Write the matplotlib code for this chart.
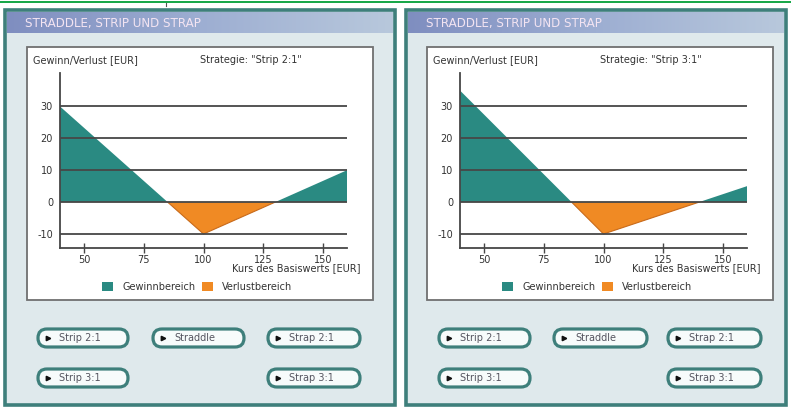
import numpy as np
import matplotlib
matplotlib.use("Agg")
import matplotlib.pyplot as plt
from matplotlib.patches import Rectangle, FancyBboxPatch, Patch
from matplotlib.colors import LinearSegmentedColormap

# Payoff profiles (profit/loss in EUR) at the given underlying prices
underlying = [40, 100, 160]
strip_21 = [30, -10, 10]
strip_31 = [35, -10, 5]

y_ticks = [-10, 0, 10, 20, 30]
x_ticks = [50, 75, 100, 125, 150]

panel_title = "STRADDLE, STRIP UND STRAP"
strategies = ["Strategie: \"Strip 2:1\"", "Strategie: \"Strip 3:1\""]
button_rows = [["Strip 2:1", "Straddle", "Strap 2:1"], ["Strip 3:1", None, "Strap 3:1"]]
legend_labels = ["Gewinnbereich", "Verlustbereich"]

TEAL = "#2a8a82"
ORANGE = "#f08a24"
BORDER = "#3e7f7b"
GRID = "#474747"
TXT = "#333333"
FS = 7

W, H = 791, 407
fig = plt.figure(figsize=(W / 100, H / 100), dpi=100)
fig.patch.set_facecolor("white")

# Background canvas in pixel units
bg = fig.add_axes([0, 0, 1, 1], zorder=0)
bg.set_xlim(0, W)
bg.set_ylim(H, 0)
bg.axis("off")

# green rule across the top
bg.add_patch(Rectangle((0, 0.5), W, 2.5, color="#19a84a", lw=0))
bg.plot([166, 166], [3, 6], color="#555555", lw=0.8)

panels = [
    dict(x0=5, x1=395, box=(27, 373), ax_x=(60, 347), btn=[(38, 128), (153, 244), (268, 360)]),
    dict(x0=406, x1=786, box=(427, 773), ax_x=(460, 747), btn=[(439, 530), (554, 647), (668, 761)]),
]

grad = np.linspace(0, 1, 256).reshape(1, -1)
title_cmap = LinearSegmentedColormap.from_list("tb", ["#7f8ec0", "#9daed2", "#b8c8dc"])

for p, payoff, strat in zip(panels, [strip_21, strip_31], strategies):
    x0, x1 = p["x0"], p["x1"]
    # panel body
    bg.add_patch(Rectangle((x0, 10), x1 - x0, 395, facecolor="#dfe9ec",
                           edgecolor=BORDER, lw=2.6, zorder=1))
    # title bar
    bg.imshow(grad, cmap=title_cmap, aspect="auto",
              extent=(x0 + 2, x1 - 2, 33, 12), zorder=2)
    bg.text(x0 + 20, 23, panel_title, color="#f3e4f2", fontsize=8.6,
            ha="left", va="center", zorder=3)
    # white chart box
    bx0, bx1 = p["box"]
    bg.add_patch(Rectangle((bx0, 47), bx1 - bx0, 253, facecolor="white",
                           edgecolor="#707070", lw=1.3, zorder=2))
    # buttons
    for r, row in enumerate(button_rows):
        yc = 338 if r == 0 else 378
        for (bl, br), label in zip(p["btn"], row):
            if label is None:
                continue
            bg.add_patch(FancyBboxPatch((bl, yc - 9), br - bl, 18,
                                        boxstyle="round,pad=0,rounding_size=9",
                                        facecolor="#f7fbfb", edgecolor=BORDER,
                                        lw=2.3, zorder=3))
            bg.plot(bl + 10, yc, marker=">", color="#111111", ms=3.2, zorder=4)
            bg.text(bl + 21, yc, label, fontsize=FS, color="#555560",
                    ha="left", va="center", zorder=4)

    # chart axes
    ax_l, ax_r = p["ax_x"]
    y_top, y_bot = 73, 248
    ax = fig.add_axes([ax_l / W, (H - y_bot) / H, (ax_r - ax_l) / W, (y_bot - y_top) / H],
                      zorder=2)
    ax.patch.set_alpha(0)
    ax.set_xlim(40, 160)
    ax.set_ylim(-14.4, 40.5)

    xs = np.asarray(underlying, float)
    ys = np.asarray(payoff, float)
    gain = ax.fill_between(xs, ys, 0, facecolor=TEAL, lw=0, zorder=2)
    gain.set_clip_path(Rectangle((40, 0), 120, 60, transform=ax.transData))
    loss = ax.fill_between(xs, ys, 0, facecolor=ORANGE, lw=0, zorder=2)
    loss.set_clip_path(Rectangle((40, -30), 120, 30, transform=ax.transData))
    ln, = ax.plot(xs, ys, color="#c86a1a", lw=0.8, zorder=2)
    ln.set_clip_path(Rectangle((40, -30), 120, 30, transform=ax.transData))

    for yv in y_ticks:
        ax.axhline(yv, color=GRID, lw=1.3, zorder=3)

    for s in ["top", "right"]:
        ax.spines[s].set_visible(False)
    for s in ["left", "bottom"]:
        ax.spines[s].set_color(GRID)
        ax.spines[s].set_linewidth(1.3)
        ax.spines[s].set_zorder(4)
    ax.set_yticks(y_ticks)
    ax.set_yticklabels([str(v) for v in y_ticks])
    ax.set_xticks(x_ticks)
    ax.set_xticklabels([str(v) for v in x_ticks])
    ax.tick_params(axis="y", length=0, pad=5, labelsize=FS, labelcolor=TXT)
    ax.tick_params(axis="x", direction="inout", length=7, width=1, color=GRID,
                   pad=1.2, labelsize=FS, labelcolor=TXT)

    ax.set_xlabel("Kurs des Basiswerts [EUR]", fontsize=FS, color=TXT,
                  ha="right", va="center")
    ax.xaxis.set_label_coords((ax_r + 13 - ax_l) / (ax_r - ax_l), (y_bot - 268) / (y_bot - y_top))
    ax.set_ylabel("Gewinn/Verlust [EUR]", fontsize=FS, color=TXT, rotation=0,
                  ha="left", va="center")
    ax.yaxis.set_label_coords((bx0 + 6 - ax_l) / (ax_r - ax_l), (y_bot - 60) / (y_bot - y_top))
    ax.text(140 / (ax_r - ax_l), (y_bot - 60) / (y_bot - y_top), strat,
            transform=ax.transAxes, fontsize=FS, color=TXT, ha="left", va="center")

    handles = [Patch(facecolor=TEAL, edgecolor="none", label=legend_labels[0]),
               Patch(facecolor=ORANGE, edgecolor="none", label=legend_labels[1])]
    ax.legend(handles=handles, loc="center", ncol=2, frameon=False, fontsize=FS,
              labelcolor=TXT, handlelength=1.05, handleheight=1.05,
              handletextpad=1.0, columnspacing=0.7,
              bbox_to_anchor=(0.479, (y_bot - 287) / (y_bot - y_top)))

fig.savefig("out.png", dpi=100)
